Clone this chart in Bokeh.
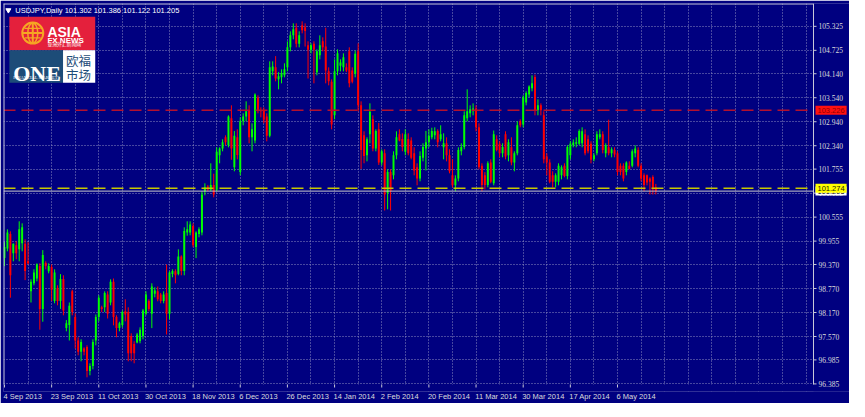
from bokeh.plotting import figure
from bokeh.models import (ColumnDataSource, Range1d, FixedTicker, LinearAxis,
                          Label, LabelSet)
from bokeh.embed import file_html
from bokeh.resources import INLINE

# USDJPY daily bars (bar 0 = 4 Sep 2013)
opens = [
    99.53, 99.77, 100.13, 99.65, 99.85, 99.75, 99.90, 99.89, 99.45, 98.70,
    98.90, 99.02, 99.33, 98.26, 99.41, 99.20, 99.31, 98.46, 98.78, 98.46,
    99.01, 97.78, 97.86, 98.70, 98.06, 97.47, 97.19, 97.27, 97.31, 96.71,
    96.83, 97.47, 98.06, 98.30, 98.30, 98.62, 98.42, 98.94, 98.06, 97.78,
    97.86, 98.20, 98.18, 97.58, 97.38, 97.42, 97.46, 97.58, 98.14, 98.46,
    98.14, 98.64, 98.70, 98.62, 98.46, 98.66, 98.14, 99.13, 99.20, 99.13,
    99.57, 99.21, 100.17, 100.17, 100.33, 99.81, 100.13, 100.17, 101.20, 101.32,
    101.24, 101.36, 101.24, 102.10, 102.27, 102.55, 102.35, 103.03, 101.80, 102.55,
    101.68, 102.95, 103.07, 103.23, 102.55, 102.47, 103.54, 103.23, 103.23, 103.07,
    102.59, 104.20, 104.30, 104.00, 104.05, 104.10, 104.30, 104.80, 105.10, 105.29,
    104.89, 105.35, 105.30, 104.85, 104.74, 104.89, 104.18, 104.60, 104.95, 104.82,
    104.20, 103.94, 103.10, 104.20, 104.34, 104.30, 104.30, 104.70, 104.22, 104.14,
    104.70, 103.35, 102.60, 102.10, 102.63, 103.00, 102.27, 102.75, 101.92, 102.15,
    101.16, 101.68, 101.60, 102.10, 102.63, 102.51, 102.19, 102.51, 102.47, 102.15,
    101.80, 101.52, 102.04, 102.27, 102.43, 102.55, 102.60, 102.71, 102.50, 102.30,
    102.40, 102.10, 101.60, 101.35, 101.52, 102.20, 102.31, 103.03, 103.15, 103.20,
    103.27, 102.80, 101.84, 101.60, 101.36, 101.92, 101.40, 102.50, 102.39, 102.15,
    102.63, 102.10, 102.30, 101.92, 102.15, 102.95, 102.87, 103.42, 103.62, 103.78,
    104.06, 103.23, 103.35, 103.10, 102.07, 101.92, 101.60, 101.44, 101.44, 101.60,
    101.84, 101.58, 102.10, 102.35, 102.39, 102.39, 102.40, 102.63, 102.50, 102.39,
    102.00, 102.15, 102.55, 102.63, 102.15, 102.30, 102.15, 102.23, 102.15, 101.84,
    101.84, 101.68, 101.84, 101.84, 102.15, 102.23, 101.84, 101.60, 101.60, 101.52,
    101.56, 101.302,
]
highs = [
    99.93, 100.25, 100.20, 99.90, 99.95, 100.45, 100.40, 100.00, 99.93, 99.00,
    99.25, 99.40, 99.40, 99.73, 99.45, 99.40, 99.37, 99.25, 98.85, 99.13,
    99.10, 97.98, 98.42, 98.74, 98.15, 97.55, 97.50, 97.30, 97.35, 96.90,
    97.50, 98.12, 98.60, 98.34, 98.70, 98.70, 99.00, 99.02, 98.10, 97.94,
    98.22, 98.50, 98.30, 97.65, 97.45, 97.66, 97.80, 98.26, 98.70, 98.50,
    98.90, 98.80, 98.82, 98.66, 98.70, 99.37, 99.20, 99.25, 99.25, 99.75,
    99.60, 100.30, 100.45, 100.45, 100.40, 100.20, 100.30, 101.20, 101.40, 101.36,
    101.90, 101.64, 102.30, 102.30, 102.50, 102.60, 103.10, 103.35, 102.71, 102.75,
    103.05, 103.15, 103.45, 103.35, 102.90, 103.65, 103.60, 103.30, 103.30, 103.15,
    104.45, 104.45, 104.58, 104.18, 104.25, 104.40, 104.95, 105.20, 105.40, 105.40,
    105.20, 105.45, 105.40, 104.95, 104.90, 104.95, 104.75, 105.10, 105.05, 105.29,
    104.30, 104.00, 104.50, 104.75, 104.50, 104.65, 104.40, 104.80, 104.30, 104.72,
    104.90, 103.45, 102.70, 102.55, 103.40, 103.10, 102.75, 102.91, 102.25, 102.25,
    101.75, 101.75, 102.20, 102.70, 102.75, 102.65, 102.75, 102.65, 102.55, 102.30,
    101.90, 102.20, 102.40, 102.71, 102.75, 102.79, 102.80, 102.75, 102.85, 102.65,
    102.55, 102.25, 102.00, 101.60, 102.30, 102.40, 103.20, 103.75, 103.35, 103.40,
    103.35, 102.90, 101.90, 101.68, 101.95, 102.00, 102.72, 102.60, 102.45, 102.40,
    102.70, 102.50, 102.55, 102.20, 102.95, 103.00, 103.60, 103.70, 103.85, 104.10,
    104.12, 103.50, 103.40, 103.20, 102.15, 102.00, 101.70, 101.65, 101.90, 101.85,
    101.90, 102.35, 102.45, 102.50, 102.55, 102.75, 102.80, 102.75, 102.60, 102.45,
    102.15, 102.70, 102.75, 102.70, 102.40, 102.99, 102.30, 102.30, 102.20, 101.90,
    101.90, 101.95, 101.95, 102.25, 102.35, 102.30, 101.90, 101.65, 101.62, 101.55,
    101.60, 101.386,
]
lows = [
    99.33, 99.70, 98.54, 99.45, 99.50, 99.45, 99.70, 98.98, 99.37, 98.42,
    98.85, 98.95, 97.74, 97.94, 99.25, 99.15, 98.46, 98.40, 98.35, 98.26,
    98.10, 97.70, 97.47, 98.10, 97.27, 97.10, 96.95, 97.10, 96.55, 96.60,
    96.75, 97.35, 97.95, 98.18, 98.18, 98.02, 98.35, 97.85, 97.55, 97.70,
    97.80, 97.95, 96.95, 96.95, 96.90, 97.40, 97.40, 97.50, 98.10, 98.20,
    97.78, 98.55, 98.45, 98.40, 98.40, 97.62, 98.00, 99.05, 98.90, 99.10,
    99.10, 99.10, 100.09, 100.10, 99.80, 99.53, 100.05, 100.10, 101.10, 101.20,
    101.20, 101.05, 101.20, 101.90, 102.20, 102.35, 102.30, 101.99, 101.70, 102.00,
    101.60, 102.85, 102.95, 102.40, 102.20, 102.40, 103.15, 103.05, 102.90, 102.45,
    102.55, 104.10, 103.95, 103.75, 103.90, 104.05, 104.20, 104.70, 105.00, 104.80,
    104.80, 105.15, 104.82, 104.02, 104.65, 103.90, 104.10, 104.50, 104.70, 103.90,
    103.85, 102.75, 103.00, 104.10, 104.20, 104.20, 104.18, 103.80, 103.90, 104.05,
    103.20, 101.76, 101.90, 101.95, 102.40, 102.20, 102.20, 101.86, 101.85, 100.72,
    100.75, 100.72, 101.50, 102.00, 102.45, 102.20, 102.10, 102.10, 102.00, 101.60,
    101.35, 101.45, 101.95, 101.72, 102.30, 102.50, 102.50, 102.30, 102.45, 102.00,
    101.95, 101.65, 101.30, 101.20, 101.45, 102.10, 102.25, 102.95, 103.05, 103.10,
    102.70, 101.75, 101.20, 101.25, 101.30, 101.40, 101.35, 102.20, 102.05, 102.05,
    102.00, 101.95, 101.85, 101.70, 102.10, 102.80, 102.80, 103.35, 103.55, 103.70,
    103.10, 103.10, 103.10, 101.90, 101.60, 101.40, 101.30, 101.30, 101.35, 101.50,
    101.55, 101.50, 102.00, 102.30, 102.30, 102.35, 102.30, 102.10, 102.15, 101.90,
    101.95, 102.10, 102.50, 102.15, 102.05, 102.10, 102.05, 102.05, 101.60, 101.60,
    101.45, 101.60, 101.75, 101.80, 102.05, 101.80, 101.45, 101.20, 101.35, 101.12,
    101.12, 101.122,
]
closes = [
    99.81, 100.17, 99.10, 99.89, 99.65, 100.25, 100.30, 99.21, 99.40, 98.94,
    99.17, 99.37, 98.26, 99.61, 99.33, 99.33, 98.74, 99.17, 98.46, 99.01,
    98.22, 97.90, 98.34, 98.18, 97.47, 97.19, 97.43, 97.19, 96.71, 96.83,
    97.43, 98.06, 98.54, 98.26, 98.66, 98.14, 98.94, 98.06, 97.78, 97.90,
    98.18, 98.12, 97.15, 97.15, 97.15, 97.62, 97.74, 98.22, 98.62, 98.26,
    98.82, 98.72, 98.50, 98.46, 98.62, 98.14, 99.17, 99.21, 99.10, 99.57,
    99.21, 100.21, 100.25, 100.37, 99.85, 100.17, 100.25, 101.12, 101.30, 101.24,
    101.36, 101.12, 102.19, 102.27, 102.43, 102.43, 103.07, 102.27, 102.59, 102.11,
    102.95, 103.07, 103.20, 102.55, 102.75, 103.62, 103.23, 103.20, 102.99, 102.59,
    104.30, 104.32, 104.02, 104.08, 104.15, 104.25, 104.80, 105.10, 105.25, 104.89,
    105.10, 105.23, 105.21, 104.74, 104.85, 104.74, 104.70, 104.85, 104.80, 104.22,
    103.95, 102.87, 104.20, 104.65, 104.42, 104.55, 104.22, 103.90, 103.94, 104.64,
    103.35, 102.23, 102.08, 102.50, 103.19, 102.27, 102.71, 101.92, 102.20, 101.12,
    101.68, 101.20, 102.10, 102.55, 102.47, 102.31, 102.63, 102.15, 102.04, 101.72,
    101.52, 102.08, 102.31, 102.43, 102.59, 102.71, 102.70, 102.43, 102.63, 102.40,
    102.10, 101.70, 101.35, 101.52, 102.23, 102.31, 103.10, 103.20, 103.25, 103.27,
    102.80, 101.80, 101.36, 101.36, 101.90, 101.44, 102.63, 102.23, 102.15, 102.31,
    102.07, 102.43, 101.92, 102.15, 102.85, 102.85, 103.55, 103.66, 103.82, 103.90,
    103.23, 103.35, 103.23, 102.00, 101.92, 101.44, 101.44, 101.60, 101.84, 101.80,
    101.58, 102.31, 102.39, 102.42, 102.43, 102.71, 102.70, 102.15, 102.20, 101.99,
    102.10, 102.63, 102.63, 102.23, 102.35, 102.15, 102.25, 102.12, 101.68, 101.68,
    101.52, 101.92, 101.76, 102.20, 102.27, 101.84, 101.52, 101.36, 101.42, 101.44,
    101.25, 101.205,
]

date_labels = ["4 Sep 2013", "23 Sep 2013", "11 Oct 2013", "30 Oct 2013",
               "18 Nov 2013", "6 Dec 2013", "26 Dec 2013", "14 Jan 2014",
               "2 Feb 2014", "20 Feb 2014", "11 Mar 2014", "30 Mar 2014",
               "17 Apr 2014", "6 May 2014"]
date_label_bars = [0, 16, 32, 48, 64, 80, 96, 112, 128, 144, 160, 176, 192, 208]

price_ticks = [105.325, 104.725, 104.140, 103.540, 102.940, 102.340, 101.755,
               101.155, 100.555, 99.955, 99.370, 98.770, 98.170, 97.570,
               96.985, 96.385]

title_text = "USDJPY,Daily  101.302 101.386 101.122 101.205"
red_level = 103.226
ask_level = 101.274
bid_level = 101.205

NAVY = "#000080"
BULL = "#00ff00"
BEAR = "#ff0000"
GRID = "#8c8cc0"
EDGE = "#c8c8d8"
TXT = "#dcdcdc"
FONT = "Liberation Sans"
FS = 7.5

# the frame holds the chart (CW x CH px), the price scale to its right and a
# strip of EXT px under it
FW, CW, CH, EXT = 846, 810, 381, 7
X0, X1 = -0.33, 274.5
Y0, Y1 = 96.37, 105.896
DX = (X1 - X0) / CW   # data per pixel
DY = (Y1 - Y0) / CH
XF = X0 + FW * DX
YB = Y0 - EXT * DY


def rx(px):
    # position in the original screenshot -> data x
    return X0 + (px - 3) / 830 * (X1 - X0)


def ry(py):
    return Y1 - (py - 3) / 399 * (Y1 - Y0)


EM = {" ": 0.278, "S": 0.667, "O": 0.778, "N": 0.722, "D": 0.722, "J": 0.5,
      "F": 0.611, "M": 0.833, "A": 0.667, "c": 0.5, "t": 0.278, "v": 0.5,
      "r": 0.333, "y": 0.5}


def text_px(s):
    return sum(EM.get(ch, 0.556) for ch in s) * FS


p = figure(frame_width=FW, frame_height=CH + EXT,
           x_range=Range1d(X0, XF), y_range=Range1d(YB, Y1),
           x_axis_location=None, y_axis_location=None,
           output_backend="svg", toolbar_location=None,
           min_border_left=3, min_border_top=3, min_border_right=0, min_border_bottom=0,
           background_fill_color=NAVY, border_fill_color=NAVY, outline_line_color=None)

# grid
p.xgrid.ticker = FixedTicker(ticks=list(range(8, 275, 8)))
p.ygrid.ticker = FixedTicker(ticks=price_ticks)
for g in (p.xgrid, p.ygrid):
    g.grid_line_color = GRID
    g.grid_line_dash = "1 2"
    g.grid_line_width = 1

# date axis: labels start at their tick, so the label ticks sit half a label to the right
label_pos = [b + (text_px(t) / 2 - 1) * DX for b, t in zip(date_label_bars, date_labels)]
date_axis = LinearAxis(ticker=FixedTicker(ticks=label_pos),
                       major_label_overrides=dict(zip(label_pos, date_labels)),
                       major_tick_out=0, major_tick_in=0, major_tick_line_color=None,
                       axis_line_color=None, minor_tick_line_color=None,
                       major_label_standoff=0, major_label_text_color=TXT,
                       major_label_text_font=FONT, major_label_text_font_size="%spx" % FS)
p.add_layout(date_axis, "below")

# candles
idx = list(range(len(closes)))
colors = [BULL if c >= o else BEAR for o, c in zip(opens, closes)]
src = ColumnDataSource(dict(
    x=idx, high=highs, low=lows,
    top=[max(o, c) for o, c in zip(opens, closes)],
    bottom=[min(o, c) for o, c in zip(opens, closes)],
    color=colors))
p.segment(x0="x", y0="low", x1="x", y1="high", line_color="color", line_width=1, source=src)
p.vbar(x="x", width=0.66, top="top", bottom="bottom", fill_color="color",
       line_color=None, source=src)

# price lines
p.segment(x0=[X0], y0=[red_level], x1=[X1], y1=[red_level], line_color="#b4102e",
          line_dash="12 6", line_width=1.5)
p.segment(x0=[X0], y0=[bid_level], x1=[X1], y1=[bid_level], line_color="#c8c8c8",
          line_width=1)
p.segment(x0=[X0], y0=[ask_level], x1=[X1], y1=[ask_level], line_color="#c8c800",
          line_dash="12 6", line_width=1.5)

# price scale and bottom strip: hide the grid there, draw border and tick marks
p.quad(left=[X1, X0], right=[XF, XF], bottom=[YB, YB], top=[Y1, Y0],
       fill_color=NAVY, line_color=None)
p.segment(x0=[X0 + 0.5 * DX, X0, X1], y0=[Y0, Y1 - 0.5 * DY, Y0],
          x1=[X0 + 0.5 * DX, X1, X1], y1=[Y1, Y1 - 0.5 * DY, Y1],
          line_color=EDGE, line_width=1)
p.segment(x0=[X1] * len(price_ticks), y0=price_ticks,
          x1=[X1 + 3 * DX] * len(price_ticks), y1=price_ticks, line_color=EDGE, line_width=1)
p.segment(x0=date_label_bars, y0=[Y0] * len(date_label_bars),
          x1=date_label_bars, y1=[Y0 - 3 * DY] * len(date_label_bars),
          line_color=EDGE, line_width=1)
psrc = ColumnDataSource(dict(x=[X1 + 5 * DX] * len(price_ticks), y=price_ticks,
                             text=["%.3f" % v for v in price_ticks]))
p.add_layout(LabelSet(x="x", y="y", text="text", source=psrc, text_align="left",
                      text_baseline="middle", text_font=FONT, text_font_size="%spx" % FS,
                      text_color=TXT))


# price tags
def tag(level, text, bg, fg):
    p.add_layout(Label(x=X1 + 2 * DX, y=level, text=text, text_align="left",
                       text_baseline="middle", text_font=FONT, text_font_size="%spx" % FS,
                       text_color=fg, background_fill_color=bg, padding=2))


tag(bid_level, "%.3f" % bid_level, "white", "black")
tag(ask_level, "%.3f" % ask_level, "#ffff00", "#202000")
tag(red_level, "%.3f" % red_level, "#ff1010", "#900000")

# chart caption
p.scatter(x=[rx(8)], y=[ry(10)], marker="inverted_triangle", size=5,
          fill_color="white", line_color="white")
p.add_layout(Label(x=rx(15), y=ry(10), text=title_text, text_font=FONT,
                   text_font_size="%spx" % FS, text_color="white", text_baseline="middle"))

# logo
p.quad(left=rx(9), right=rx(97), top=ry(17), bottom=ry(52), fill_color="#e4203c", line_color=None)
p.quad(left=rx(9), right=rx(64), top=ry(52), bottom=ry(86), fill_color="#1d4c78", line_color=None)
p.quad(left=rx(64), right=rx(97), top=ry(52), bottom=ry(86), fill_color="white", line_color=None)
ORANGE = "#f6a623"
p.scatter(x=[rx(33)], y=[ry(34)], marker="circle_cross", size=21,
          fill_color=None, line_color=ORANGE, line_width=2)
p.ellipse(x=[rx(33)], y=[ry(34)], width=10, height=20, width_units="screen",
          height_units="screen", fill_color=None, line_color=ORANGE, line_width=1.5)
p.segment(x0=[rx(25), rx(25)], y0=[ry(29), ry(39)], x1=[rx(41), rx(41)], y1=[ry(29), ry(39)],
          line_color=ORANGE, line_width=1.2)
p.add_layout(Label(x=rx(48), y=ry(33), text="ASIA", text_font=FONT, text_font_size="14px",
                   text_font_style="bold", text_color="white", text_baseline="alphabetic"))
p.add_layout(Label(x=rx(48), y=ry(41.5), text="FX NEWS", text_font=FONT, text_font_size="8px",
                   text_font_style="bold", text_color="white", text_baseline="alphabetic"))
p.add_layout(Label(x=rx(48), y=ry(44.5), text="亚洲外汇新闻网", text_font="Noto Sans CJK SC",
                   text_font_size="4.8px", text_color="white", text_baseline="middle"))
p.add_layout(Label(x=rx(13), y=ry(76), text="ONE", text_font="Liberation Serif",
                   text_font_size="22px", text_font_style="bold", text_color="white",
                   text_baseline="alphabetic"))
p.add_layout(Label(x=rx(13), y=ry(80.5), text="FINANCIAL MARKETS", text_font="Liberation Serif",
                   text_font_size="4.5px", text_color="white", text_baseline="middle"))
p.add_layout(Label(x=rx(67), y=ry(63), text="欧福", text_font="Noto Sans CJK SC",
                   text_font_size="12.5px", text_color="#1d4c78", text_baseline="middle"))
p.add_layout(Label(x=rx(67), y=ry(77), text="市场", text_font="Noto Sans CJK SC",
                   text_font_size="12.5px", text_color="#1d4c78", text_baseline="middle"))

open("out.html", "w").write(file_html(p, INLINE))
